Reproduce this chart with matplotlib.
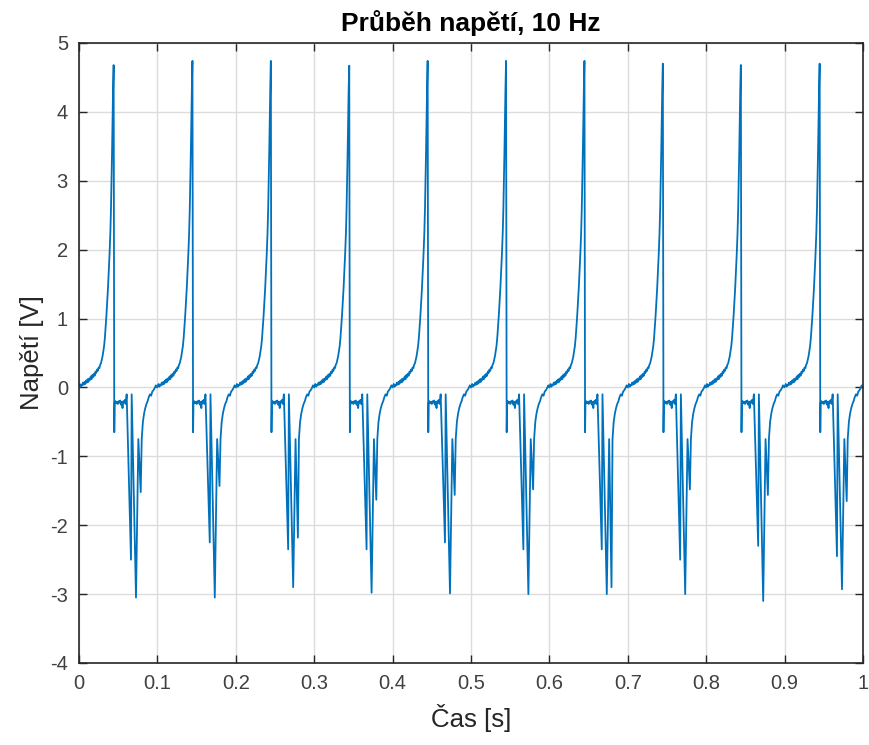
import numpy as np
import matplotlib
matplotlib.use("Agg")
import matplotlib.pyplot as plt

# falling edge time of each spike [s] and per-cycle levels
fall_t = [0.0450, 0.1455, 0.2455, 0.3455, 0.4455, 0.5455, 0.6455, 0.7455, 0.8450, 0.9455]
peak_v = [4.68, 4.74, 4.74, 4.67, 4.74, 4.74, 4.74, 4.70, 4.68, 4.70]
dip1_v = [-2.50, -2.25, -2.35, -2.35, -2.25, -2.35, -2.35, -2.50, -2.30, -2.45]
trough_v = [-3.05, -3.05, -2.90, -2.98, -2.99, -3.00, -3.00, -3.00, -3.10, -2.93]
second_v = [-1.52, -1.43, -2.18, -1.63, -1.56, -1.48, -2.90, -1.48, -1.56, -1.65]

# shape of one cycle, offsets [s] relative to the falling edge
rise_off = [-0.0450, -0.0440, -0.0430, -0.0420, -0.0410, -0.0400, -0.0390, -0.0380,
            -0.0370, -0.0360, -0.0350, -0.0340, -0.0330, -0.0320, -0.0310, -0.0300,
            -0.0290, -0.0280, -0.0270, -0.0260, -0.0250, -0.0240, -0.0230, -0.0220,
            -0.0210, -0.0200, -0.0190, -0.0180, -0.0170, -0.0160, -0.0150, -0.0140,
            -0.0130, -0.0120, -0.0110, -0.0100, -0.0090, -0.0080, -0.0070, -0.0060,
            -0.0050, -0.0042, -0.0035, -0.0028, -0.0022, -0.0016]
rise_val = [0.02, 0.05, 0.01, 0.04, 0.03, 0.07, 0.04, 0.08, 0.05, 0.10,
            0.07, 0.12, 0.08, 0.13, 0.11, 0.16, 0.12, 0.18, 0.15, 0.20,
            0.17, 0.23, 0.21, 0.26, 0.24, 0.29, 0.28, 0.33, 0.35, 0.40,
            0.45, 0.52, 0.60, 0.72, 0.88, 1.05, 1.25, 1.45, 1.70, 1.95,
            2.25, 2.60, 3.00, 3.45, 3.90, 4.30]
neg_off = [0.0000, 0.0005, 0.0015, 0.0025, 0.0035, 0.0045, 0.0055, 0.0065, 0.0075,
           0.0085, 0.0095, 0.0105, 0.0115, 0.0125, 0.0135, 0.0145, 0.0158]
neg_val = [-0.65, -0.22, -0.20, -0.23, -0.21, -0.24, -0.20, -0.22, -0.19,
           -0.25, -0.21, -0.30, -0.20, -0.22, -0.18, -0.24, -0.10]
rec_off = [0.0350, 0.0365, 0.0380, 0.0395, 0.0410, 0.0425, 0.0440, 0.0455,
           0.0470, 0.0485, 0.0500, 0.0515, 0.0530, 0.0545]
rec_val = [-0.75, -0.50, -0.38, -0.30, -0.24, -0.20, -0.14, -0.10,
           -0.12, -0.06, -0.04, -0.01, 0.03, 0.00]
peak_off = -0.0008
dip1_off, mid_off, mid_val = 0.0213, 0.0222, -0.10
trough_off, top_off, top_val = 0.0277, 0.0307, -0.75
second_off = 0.0337

xticks = [0, 0.1, 0.2, 0.3, 0.4, 0.5, 0.6, 0.7, 0.8, 0.9, 1]
xtick_labels = ['0', '0.1', '0.2', '0.3', '0.4', '0.5', '0.6', '0.7', '0.8', '0.9', '1']
yticks = [-4, -3, -2, -1, 0, 1, 2, 3, 4, 5]
ytick_labels = ['-4', '-3', '-2', '-1', '0', '1', '2', '3', '4', '5']

# build the whole trace cycle by cycle
t_all, v_all = [], []
for k in range(len(fall_t)):
    off = (rise_off + [peak_off] + neg_off + [dip1_off, mid_off, trough_off, top_off, second_off]
           + rec_off)
    val = (rise_val + [peak_v[k]] + neg_val + [dip1_v[k], mid_val, trough_v[k], top_val, second_v[k]]
           + rec_val)
    t_all += [fall_t[k] + o for o in off]
    v_all += val

plt.rcParams['font.family'] = ['Liberation Sans', 'DejaVu Sans']

fig = plt.figure(figsize=(8.7, 7.45), dpi=100)
ax = fig.add_axes([79 / 870, 82 / 745, 784 / 870, 620 / 745])
ax.plot(t_all, v_all, color='#0072BD', lw=1.3)

ax.set_xlim(0, 1)
ax.set_ylim(-4, 5)
ax.set_xticks(xticks)
ax.set_xticklabels(xtick_labels)
ax.set_yticks(yticks)
ax.set_yticklabels(ytick_labels)
ax.grid(True, color='#dcdcdc', lw=1.0)
ax.set_axisbelow(True)
ax.tick_params(direction='in', length=6, width=1, color='#262626', labelcolor='#404040',
               labelsize=14.5, top=True, right=True, pad=8)
for s in ax.spines.values():
    s.set_color('#262626')
    s.set_linewidth(1.2)

ax.set_xlabel('Čas [s]', fontsize=18.5, color='#262626', labelpad=8)
ax.set_ylabel('Napětí [V]', fontsize=18.5, color='#262626', labelpad=4)
ax.set_title('Průběh napětí, 10 Hz', fontsize=19, fontweight='bold', pad=9)

fig.savefig('out.png', dpi=100)
